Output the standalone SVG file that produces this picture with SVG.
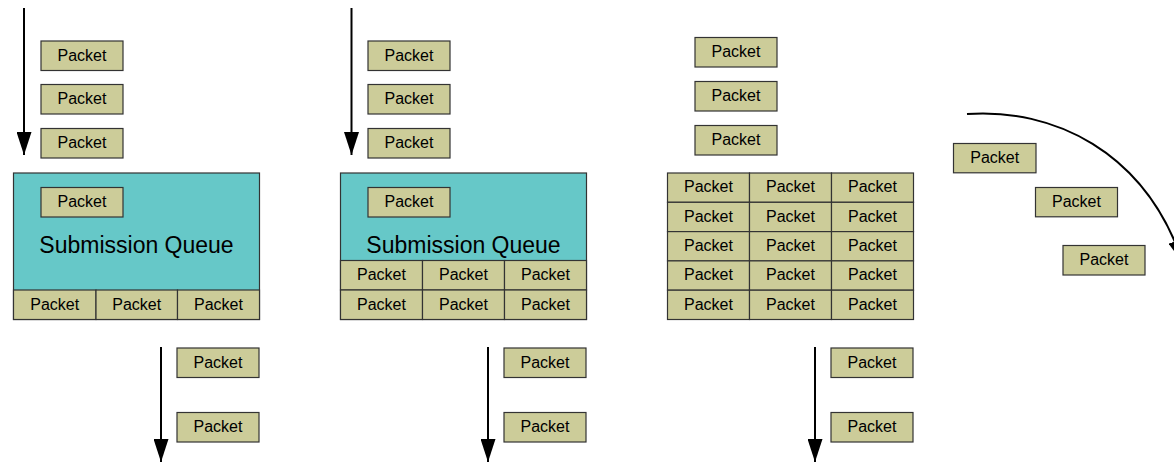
<svg xmlns="http://www.w3.org/2000/svg" width="1174" height="463" viewBox="0 0 1174 463">
<style>
.pk{fill:#CCCC99;stroke:#333333;stroke-width:1.2}
.q{fill:#66C8C8;stroke:#333333;stroke-width:1.2}
.t{font-family:"Liberation Sans",Arial,sans-serif;font-size:16px;fill:#000;text-anchor:middle}
.qt{font-family:"Liberation Sans",Arial,sans-serif;font-size:23px;fill:#000;text-anchor:middle}
.ar{stroke:#000;stroke-width:2;fill:none}
</style>
<defs>
<marker id="ah" markerUnits="userSpaceOnUse" markerWidth="23" markerHeight="15" refX="23" refY="7.5" orient="auto" viewBox="0 0 23 15">
<path d="M0,0 L23,7.5 L0,15 z" fill="#000"/>
</marker>
</defs>
<rect width="1174" height="463" fill="#fff"/>

<g id="connectors">
<line class="ar" x1="24" y1="8" x2="24" y2="155" marker-end="url(#ah)"/>
<line class="ar" x1="351.5" y1="8" x2="351.5" y2="155" marker-end="url(#ah)"/>
<line class="ar" x1="161" y1="347" x2="161" y2="462" marker-end="url(#ah)"/>
<line class="ar" x1="488" y1="347" x2="488" y2="462" marker-end="url(#ah)"/>
<line class="ar" x1="815" y1="347" x2="815" y2="462" marker-end="url(#ah)"/>
<path class="ar" d="M967,114 C1052,108 1145,150 1183,263" marker-end="url(#ah)"/>
</g>

<!-- Panel 1 -->
<g id="p1-in1"><rect class="pk" x="41" y="41" width="82" height="29.5"/><text class="t" x="82" y="60.5">Packet</text></g>
<g id="p1-in2"><rect class="pk" x="41" y="84.5" width="82" height="29.5"/><text class="t" x="82" y="104">Packet</text></g>
<g id="p1-in3"><rect class="pk" x="41" y="128.5" width="82" height="29.5"/><text class="t" x="82" y="148">Packet</text></g>
<g id="p1-queue">
<rect class="q" x="13.5" y="173" width="246" height="146.5"/>
<text class="qt" x="136.5" y="253">Submission Queue</text>
</g>
<g id="p1-qin"><rect class="pk" x="41" y="187.5" width="82" height="29.5"/><text class="t" x="82" y="207">Packet</text></g>
<g id="p1-r1c1"><rect class="pk" x="13.5" y="290" width="82.5" height="29.5"/><text class="t" x="54.75" y="309.5">Packet</text></g>
<g id="p1-r1c2"><rect class="pk" x="96" y="290" width="81.5" height="29.5"/><text class="t" x="136.75" y="309.5">Packet</text></g>
<g id="p1-r1c3"><rect class="pk" x="177.5" y="290" width="82" height="29.5"/><text class="t" x="218.5" y="309.5">Packet</text></g>
<g id="p1-out1"><rect class="pk" x="177" y="348" width="82" height="29.5"/><text class="t" x="218" y="367.5">Packet</text></g>
<g id="p1-out2"><rect class="pk" x="177" y="412.5" width="82" height="29.5"/><text class="t" x="218" y="432">Packet</text></g>

<!-- Panel 2 -->
<g id="p2-in1"><rect class="pk" x="368" y="41" width="82" height="29.5"/><text class="t" x="409" y="60.5">Packet</text></g>
<g id="p2-in2"><rect class="pk" x="368" y="84.5" width="82" height="29.5"/><text class="t" x="409" y="104">Packet</text></g>
<g id="p2-in3"><rect class="pk" x="368" y="128.5" width="82" height="29.5"/><text class="t" x="409" y="148">Packet</text></g>
<g id="p2-queue">
<rect class="q" x="340.5" y="173" width="246" height="146.5"/>
<text class="qt" x="463.5" y="252.5">Submission Queue</text>
</g>
<g id="p2-qin"><rect class="pk" x="368" y="187.5" width="82" height="29.5"/><text class="t" x="409" y="207">Packet</text></g>
<g id="p2-r1c1"><rect class="pk" x="340.5" y="260.5" width="82" height="29.5"/><text class="t" x="381.5" y="280">Packet</text></g>
<g id="p2-r1c2"><rect class="pk" x="422.5" y="260.5" width="82" height="29.5"/><text class="t" x="463.5" y="280">Packet</text></g>
<g id="p2-r1c3"><rect class="pk" x="504.5" y="260.5" width="82" height="29.5"/><text class="t" x="545.5" y="280">Packet</text></g>
<g id="p2-r2c1"><rect class="pk" x="340.5" y="290" width="82" height="29.5"/><text class="t" x="381.5" y="309.5">Packet</text></g>
<g id="p2-r2c2"><rect class="pk" x="422.5" y="290" width="82" height="29.5"/><text class="t" x="463.5" y="309.5">Packet</text></g>
<g id="p2-r2c3"><rect class="pk" x="504.5" y="290" width="82" height="29.5"/><text class="t" x="545.5" y="309.5">Packet</text></g>
<g id="p2-out1"><rect class="pk" x="504" y="348" width="82" height="29.5"/><text class="t" x="545" y="367.5">Packet</text></g>
<g id="p2-out2"><rect class="pk" x="504" y="412.5" width="82" height="29.5"/><text class="t" x="545" y="432">Packet</text></g>

<!-- Panel 3 -->
<g id="p3-in1"><rect class="pk" x="695" y="37.5" width="82" height="29.5"/><text class="t" x="736" y="57">Packet</text></g>
<g id="p3-in2"><rect class="pk" x="695" y="81.5" width="82" height="29.5"/><text class="t" x="736" y="101">Packet</text></g>
<g id="p3-in3"><rect class="pk" x="695" y="125.5" width="82" height="29.5"/><text class="t" x="736" y="145">Packet</text></g>
<g id="p3-grid">
<g id="p3-r1c1"><rect class="pk" x="667.5" y="173" width="82" height="29.3"/><text class="t" x="708.5" y="192.4">Packet</text></g>
<g id="p3-r1c2"><rect class="pk" x="749.5" y="173" width="82" height="29.3"/><text class="t" x="790.5" y="192.4">Packet</text></g>
<g id="p3-r1c3"><rect class="pk" x="831.5" y="173" width="82" height="29.3"/><text class="t" x="872.5" y="192.4">Packet</text></g>
<g id="p3-r2c1"><rect class="pk" x="667.5" y="202.3" width="82" height="29.3"/><text class="t" x="708.5" y="221.7">Packet</text></g>
<g id="p3-r2c2"><rect class="pk" x="749.5" y="202.3" width="82" height="29.3"/><text class="t" x="790.5" y="221.7">Packet</text></g>
<g id="p3-r2c3"><rect class="pk" x="831.5" y="202.3" width="82" height="29.3"/><text class="t" x="872.5" y="221.7">Packet</text></g>
<g id="p3-r3c1"><rect class="pk" x="667.5" y="231.6" width="82" height="29.3"/><text class="t" x="708.5" y="251">Packet</text></g>
<g id="p3-r3c2"><rect class="pk" x="749.5" y="231.6" width="82" height="29.3"/><text class="t" x="790.5" y="251">Packet</text></g>
<g id="p3-r3c3"><rect class="pk" x="831.5" y="231.6" width="82" height="29.3"/><text class="t" x="872.5" y="251">Packet</text></g>
<g id="p3-r4c1"><rect class="pk" x="667.5" y="260.9" width="82" height="29.3"/><text class="t" x="708.5" y="280.3">Packet</text></g>
<g id="p3-r4c2"><rect class="pk" x="749.5" y="260.9" width="82" height="29.3"/><text class="t" x="790.5" y="280.3">Packet</text></g>
<g id="p3-r4c3"><rect class="pk" x="831.5" y="260.9" width="82" height="29.3"/><text class="t" x="872.5" y="280.3">Packet</text></g>
<g id="p3-r5c1"><rect class="pk" x="667.5" y="290.2" width="82" height="29.3"/><text class="t" x="708.5" y="309.6">Packet</text></g>
<g id="p3-r5c2"><rect class="pk" x="749.5" y="290.2" width="82" height="29.3"/><text class="t" x="790.5" y="309.6">Packet</text></g>
<g id="p3-r5c3"><rect class="pk" x="831.5" y="290.2" width="82" height="29.3"/><text class="t" x="872.5" y="309.6">Packet</text></g>
</g>
<g id="p3-out1"><rect class="pk" x="831" y="348" width="82" height="29.5"/><text class="t" x="872" y="367.5">Packet</text></g>
<g id="p3-out2"><rect class="pk" x="831" y="412.5" width="82" height="29.5"/><text class="t" x="872" y="432">Packet</text></g>

<!-- Panel 4 -->
<g id="p4-a"><rect class="pk" x="953.5" y="143.5" width="82.5" height="29.3"/><text class="t" x="994.75" y="162.9">Packet</text></g>
<g id="p4-b"><rect class="pk" x="1035.5" y="187.5" width="82" height="29.3"/><text class="t" x="1076.5" y="206.9">Packet</text></g>
<g id="p4-c"><rect class="pk" x="1063" y="245.5" width="82" height="29.5"/><text class="t" x="1104" y="265">Packet</text></g>
</svg>
